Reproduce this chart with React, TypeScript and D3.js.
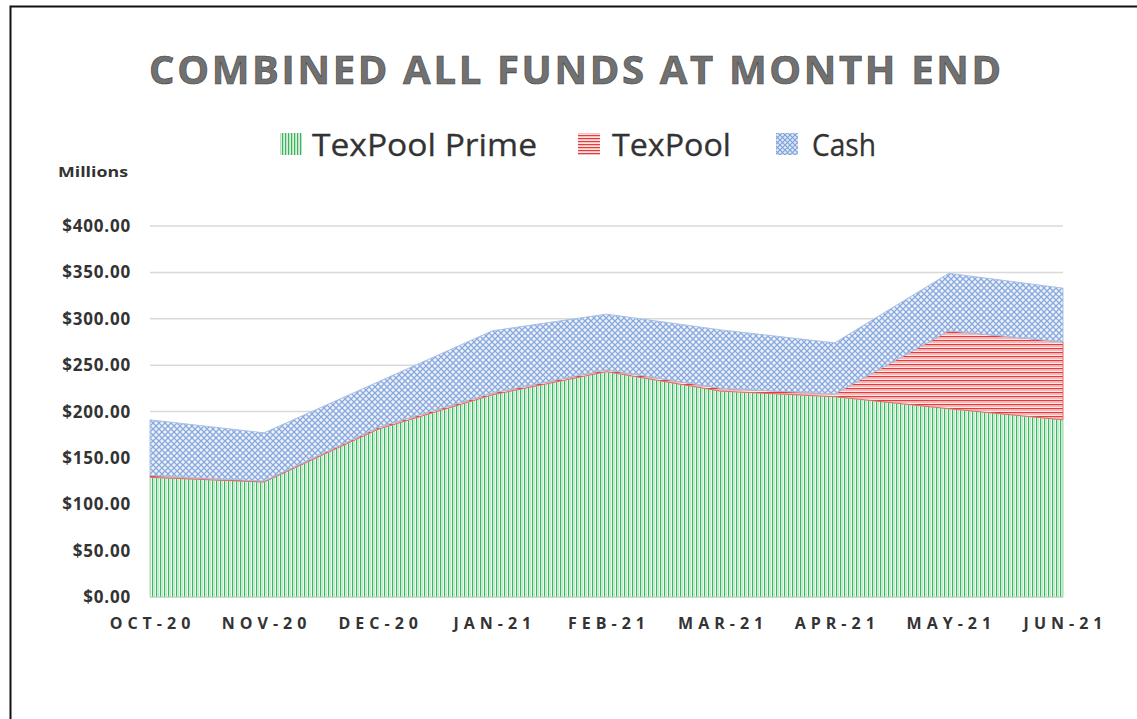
import React from "react";
import * as d3 from "d3";

const categories = ["OCT-20", "NOV-20", "DEC-20", "JAN-21", "FEB-21", "MAR-21", "APR-21", "MAY-21", "JUN-21"];
const texPoolPrime = [129, 124, 181, 218, 243, 222, 216, 203, 191];
const texPool = [2, 1, 2, 2, 2, 3, 3, 84, 84];
const cash = [60, 52, 49, 67, 60, 63, 55, 62, 58];
const yTicks = [0, 50, 100, 150, 200, 250, 300, 350, 400];
const seriesNames = ["TexPool Prime", "TexPool", "Cash"];

const W = 1137;
const H = 719;
const M = { left: 150, right: 1063, top: 226, bottom: 597 };

export default function App() {
  const x = d3.scalePoint<string>().domain(categories).range([M.left, M.right]);
  const y = d3.scaleLinear().domain([0, 400]).range([M.bottom, M.top]);

  const rows = categories.map((c, i) => ({ cat: c, prime: texPoolPrime[i], pool: texPool[i], cash: cash[i] }));
  const stack = d3.stack<any>().keys(["prime", "pool", "cash"])(rows);
  const area = d3
    .area<any>()
    .x((d) => x(d.data.cat) as number)
    .y0((d) => y(d[0]))
    .y1((d) => y(d[1]));
  const fills = ["url(#pGreen)", "url(#pRed)", "url(#pBlue)"];
  const edges = ["#a6dcae", "#e06b6b", "#a9c0e6"];

  const fmt = (v: number) => "$" + v.toFixed(2);

  const legendItems = [
    { name: seriesNames[0], x: 280, tx: 312, fill: "url(#lGreen)", len: 225 },
    { name: seriesNames[1], x: 578, tx: 612, fill: "url(#lRed)", len: 119 },
    { name: seriesNames[2], x: 776, tx: 812, fill: "url(#lBlue)", len: 64 },
  ];

  return (
    <svg width={W} height={H} style={{ position: "absolute", left: 0, top: 0, background: "#fff" }}>
      <defs>
        <pattern id="pGreen" patternUnits="userSpaceOnUse" width={4} height={4}>
          <rect width={4} height={4} fill="#eef9f0" />
          <rect x={0} width={1.2} height={4} fill="#35b862" />
          <rect x={2} width={1} height={4} fill="#bfe8c8" />
        </pattern>
        <pattern id="pRed" patternUnits="userSpaceOnUse" width={4} height={4}>
          <rect width={4} height={4} fill="#fde8e8" />
          <rect y={0} width={4} height={1.3} fill="#e83a3a" />
          <rect y={2} width={4} height={1} fill="#f6b8b8" />
        </pattern>
        <pattern id="pBlue" patternUnits="userSpaceOnUse" width={6} height={6}>
          <rect width={6} height={6} fill="#eef3fb" />
          <path d="M0,0 L6,6 M6,0 L0,6" stroke="#89a9dc" strokeWidth={1.3} />
        </pattern>
        <pattern id="lGreen" patternUnits="userSpaceOnUse" width={3} height={3}>
          <rect width={3} height={3} fill="#d8f0dc" />
          <rect width={1.2} height={3} fill="#3cb35e" />
        </pattern>
        <pattern id="lRed" patternUnits="userSpaceOnUse" width={3} height={3}>
          <rect width={3} height={3} fill="#fde0e0" />
          <rect width={3} height={1.2} fill="#e53b3b" />
        </pattern>
        <pattern id="lBlue" patternUnits="userSpaceOnUse" width={5} height={5}>
          <rect width={5} height={5} fill="#dfe8f7" />
          <path d="M0,0 L5,5 M5,0 L0,5" stroke="#7ea1d8" strokeWidth={1.1} />
        </pattern>
      </defs>

      <rect x={10.5} y={6.5} width={1200} height={800} fill="none" stroke="#111" strokeWidth={2} />

      <text
        x={575}
        y={84}
        textAnchor="middle"
        fontFamily="'Open Sans', sans-serif"
        fontWeight={700}
        fontSize={40}
        textLength={852}
        lengthAdjust="spacing"
        fill="#717171"
        stroke="#404040"
        strokeWidth={0.6}
      >
        COMBINED ALL FUNDS AT MONTH END
      </text>

      {legendItems.map((l) => (
        <g key={l.name}>
          <rect x={l.x} y={133} width={22} height={22} fill={l.fill} />
          <text
            x={l.tx}
            y={156}
            fontFamily="'Open Sans', sans-serif"
            fontSize={31}
            textLength={l.len}
            lengthAdjust="spacingAndGlyphs"
            fill="#333"
            stroke="#333"
            strokeWidth={0.3}
          >
            {l.name}
          </text>
        </g>
      ))}

      <text
        x={58}
        y={177}
        fontFamily="'Open Sans', sans-serif"
        fontWeight={700}
        fontSize={15}
        textLength={70}
        lengthAdjust="spacingAndGlyphs"
        fill="#333"
      >
        Millions
      </text>

      {yTicks.map((t) => (
        <g key={t}>
          <line x1={M.left} x2={M.right} y1={y(t)} y2={y(t)} stroke="#d9d9d9" strokeWidth={1.5} />
          <text
            x={131}
            y={y(t) + 6}
            textAnchor="end"
            fontFamily="'Open Sans', sans-serif"
            fontWeight={700}
            fontSize={17}
            letterSpacing={0.8}
            fill="#333"
          >
            {fmt(t)}
          </text>
        </g>
      ))}

      {stack.map((s, i) => (
        <path key={i} d={area(s) as string} fill={fills[i]} stroke={edges[i]} strokeWidth={1} />
      ))}

      {categories.map((c) => (
        <text
          key={c}
          x={(x(c) as number) + 2.5}
          y={629}
          textAnchor="middle"
          fontFamily="'Open Sans', sans-serif"
          fontWeight={700}
          fontSize={16}
          letterSpacing={5}
          fill="#333"
        >
          {c}
        </text>
      ))}
    </svg>
  );
}
